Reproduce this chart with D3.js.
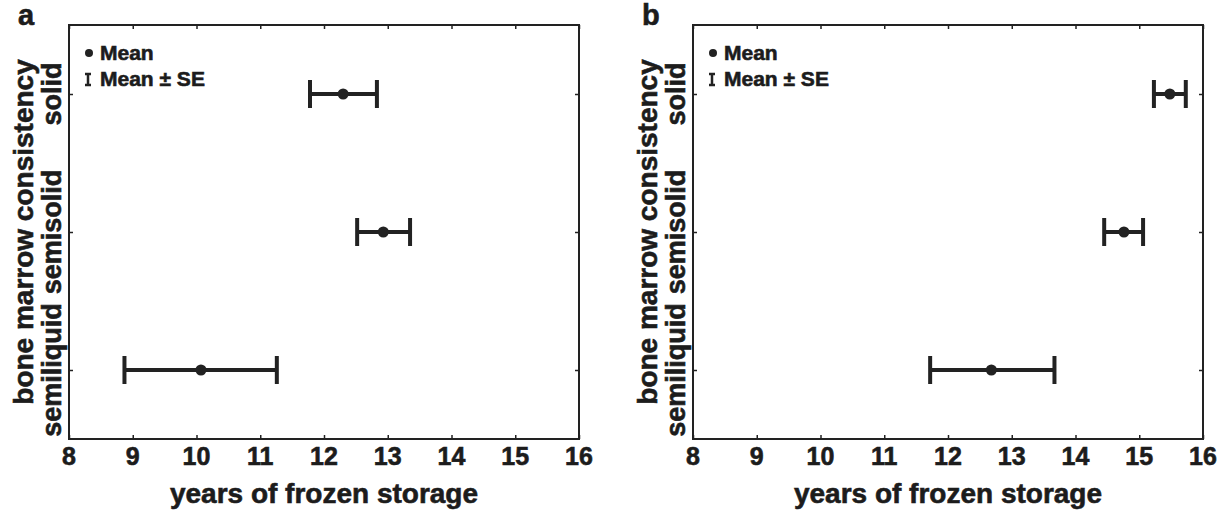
<!DOCTYPE html>
<html>
<head>
<meta charset="utf-8">
<script src="https://cdn.jsdelivr.net/npm/d3@7"></script>
<style>
  body { margin: 0; background: #fff; }
  text { font-family: "Liberation Sans", Arial, sans-serif; font-weight: bold; fill: #1c1c1c;
         stroke: #1c1c1c; stroke-width: 0.6px; }
</style>
</head>
<body>
<svg></svg>
<script>
// data
const categories = ['solid', 'semisolid', 'semiliquid'];
const xTicks = [8, 9, 10, 11, 12, 13, 14, 15, 16];

const meanA = [12.30, 12.93, 10.07];
const lowA = [11.78, 12.52, 8.87];
const highA = [12.83, 13.35, 11.26];

const meanB = [15.48, 14.76, 12.68];
const lowB = [15.23, 14.45, 11.72];
const highB = [15.73, 15.06, 13.67];

const WIDTH = 1231;
const HEIGHT = 520;
const INK = '#222';

let svg = d3.select('svg').attr('width', WIDTH).attr('height', HEIGHT);

function drawPanel(letter, left, right, means, lows, highs) {
    const top = 25, bottom = 439;
    let x = d3.scaleLinear().domain([8, 16]).range([left, right]);
    let y = d3.scalePoint().domain(categories).range([top, bottom]).padding(0.5);

    let g = svg.append('g');

    // frame
    g.append('rect').attr('x', left).attr('y', top)
        .attr('width', right - left).attr('height', bottom - top)
        .attr('fill', 'none').attr('stroke', INK).attr('stroke-width', 2);

    // ticks pointing inward on all four sides
    let bAxis = g.append('g').attr('transform', `translate(0,${bottom})`)
        .call(d3.axisTop(x).tickValues(xTicks).tickSize(4).tickFormat(''));
    let tAxis = g.append('g').attr('transform', `translate(0,${top})`)
        .call(d3.axisBottom(x).tickValues(xTicks).tickSize(4).tickFormat(''));
    let lAxis = g.append('g').attr('transform', `translate(${left},0)`)
        .call(d3.axisRight(y).tickSize(4).tickFormat(''));
    let rAxis = g.append('g').attr('transform', `translate(${right},0)`)
        .call(d3.axisLeft(y).tickSize(4).tickFormat(''));
    [bAxis, tAxis, lAxis, rAxis].forEach(a => {
        a.select('.domain').remove();
        a.selectAll('line').attr('stroke', INK).attr('stroke-width', 1.5);
    });

    // x tick labels
    g.selectAll('.xl').data(xTicks).enter().append('text')
        .attr('x', d => x(d)).attr('y', 465)
        .attr('text-anchor', 'middle').style('font-size', '25px')
        .text(d => d);

    // category labels, rotated
    g.selectAll('.yl').data(categories).enter().append('text')
        .attr('transform', d => `translate(${left - 8},${y(d)}) rotate(-90)`)
        .attr('text-anchor', 'middle').style('font-size', '27px')
        .text(d => d);

    g.append('text')
        .attr('transform', `translate(${left - 36},${(top + bottom) / 2}) rotate(-90)`)
        .attr('text-anchor', 'middle').style('font-size', '28px')
        .text('bone marrow consistency');

    g.append('text')
        .attr('x', (left + right) / 2).attr('y', 503)
        .attr('text-anchor', 'middle').style('font-size', '28px')
        .text('years of frozen storage');

    g.append('text').attr('x', left - 51).attr('y', 25)
        .style('font-size', '29px').text(letter);

    // error bars
    let rows = categories.map((c, i) => ({c: c, m: means[i], lo: lows[i], hi: highs[i]}));
    let bars = g.selectAll('.bar').data(rows).enter().append('g');
    bars.append('line')
        .attr('x1', d => x(d.lo)).attr('x2', d => x(d.hi))
        .attr('y1', d => y(d.c)).attr('y2', d => y(d.c))
        .attr('stroke', INK).attr('stroke-width', 4);
    bars.append('line')
        .attr('x1', d => x(d.lo)).attr('x2', d => x(d.lo))
        .attr('y1', d => y(d.c) - 14).attr('y2', d => y(d.c) + 14)
        .attr('stroke', INK).attr('stroke-width', 4);
    bars.append('line')
        .attr('x1', d => x(d.hi)).attr('x2', d => x(d.hi))
        .attr('y1', d => y(d.c) - 14).attr('y2', d => y(d.c) + 14)
        .attr('stroke', INK).attr('stroke-width', 4);
    bars.append('circle')
        .attr('cx', d => x(d.m)).attr('cy', d => y(d.c)).attr('r', 5.5)
        .attr('fill', INK);

    // legend
    let lg = g.append('g').attr('transform', `translate(${left},0)`);
    lg.append('circle').attr('cx', 20).attr('cy', 53).attr('r', 4).attr('fill', INK);
    lg.append('text').attr('x', 31).attr('y', 60).style('font-size', '21px').text('Mean');
    lg.append('path').attr('d', 'M16,74 H22 M19,74 V85 M16,85 H22')
        .attr('stroke', INK).attr('stroke-width', 2.5).attr('fill', 'none');
    lg.append('text').attr('x', 31).attr('y', 86).style('font-size', '21px').text('Mean ± SE');
}

drawPanel('a', 69, 579, meanA, lowA, highA);
drawPanel('b', 693, 1203, meanB, lowB, highB);
</script>
</body>
</html>
